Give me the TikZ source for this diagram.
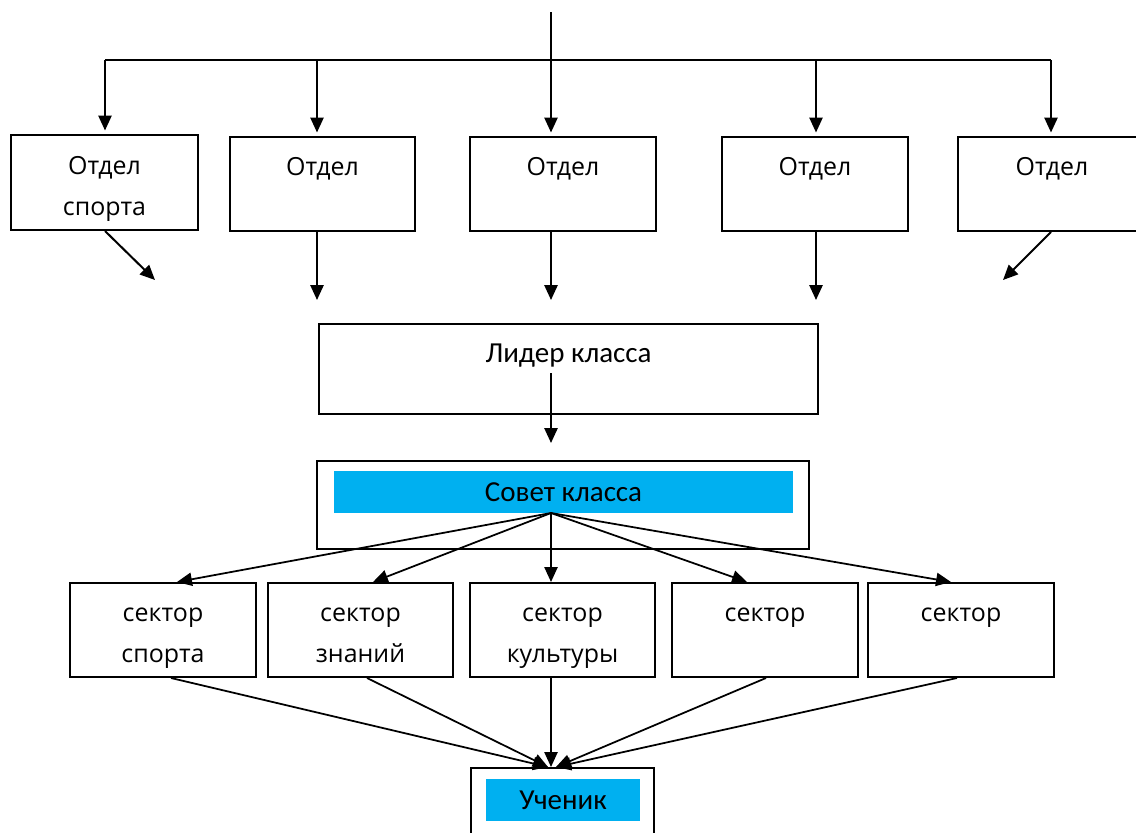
\documentclass[tikz,border=0pt]{standalone}
\usepackage{fontspec}
\setmainfont{Open Sans}
\newfontfamily\calibri{Carlito}
\usetikzlibrary{arrows.meta}
\usetikzlibrary{calc}
\definecolor{skyblue}{RGB}{0,176,240}

\begin{document}
\begin{tikzpicture}[x=0.02cm, y=-0.02cm, line width=1.15pt,
  box/.style={draw, inner sep=0pt, align=center, font=\fontsize{14.2}{23.3}\selectfont},
  bigbox/.style={draw, inner sep=0pt, align=center, font=\calibri\fontsize{16.5}{20}\selectfont},
  plate/.style={fill=skyblue, inner sep=0pt, font=\calibri\fontsize{16.5}{20}\selectfont},
  arr/.style={-{Triangle[length=8.5pt,width=7.5pt]}}]
\newcommand{\twoln}[2]{\rule{0pt}{\dimexpr0.7\baselineskip+4.5pt\relax}#1\\\strut #2}
\clip (0,0) rectangle (1136,832);
% departments
\node (otdel1) [box, minimum width=3.74cm, minimum height=1.9cm] at (104.5,182.5) {\twoln{Отдел}{спорта}};
\node (otdel2) [box, minimum width=3.7cm, minimum height=1.88cm] at (322.5,184) {\twoln{Отдел}{}};
\node (otdel3) [box, minimum width=3.72cm, minimum height=1.88cm] at (563,184) {\twoln{Отдел}{}};
\node (otdel4) [box, minimum width=3.72cm, minimum height=1.88cm] at (815,184) {\twoln{Отдел}{}};
\node (otdel5) [box, minimum width=3.76cm, minimum height=1.88cm] at (1052,184) {\twoln{Отдел}{}};
% bus
\coordinate (top) at (551,12);
\coordinate (bus) at (551,60);
\coordinate (d1) at (105,60);
\coordinate (d2) at (317,60);
\coordinate (d3) at (551,60);
\coordinate (d4) at (816,60);
\coordinate (d5) at (1051,60);
\draw (top) -- (bus) (d1) -- (d5);
\foreach \n in {1,...,5}
  \draw[arr, shorten >=2pt] (d\n) -- (d\n |- otdel\n.north);
% arrows out of the departments
\coordinate (e1) at (155,280);
\coordinate (e2) at (317,300);
\coordinate (e3) at (551,300);
\coordinate (e4) at (816,300);
\coordinate (e5) at (1003,280);
\foreach \n in {1,...,5}
  \draw[arr] (d\n |- otdel\n.south) -- (e\n);
% leader
\node (lider) [bigbox, minimum width=9.98cm, minimum height=1.8cm] at (568.5,369) {\twoln{Лидер класса}{}};
\coordinate (l0) at (551,373);
\coordinate (l1) at (551,443);
\draw[arr] (l0) -- (l1);
% council
\node (sovet) [draw, minimum width=9.84cm, minimum height=1.76cm] at (563,505) {};
\node (sovetplate) [plate, minimum width=9.18cm, minimum height=0.84cm] at (563.5,492) {Совет класса};
\coordinate (fan) at (551,513);
% sectors
\node (s1) [box, minimum width=3.72cm, minimum height=1.88cm] at (163,630) {\twoln{сектор}{спорта}};
\node (s2) [box, minimum width=3.7cm, minimum height=1.88cm] at (360.5,630) {\twoln{сектор}{знаний}};
\node (s3) [box, minimum width=3.7cm, minimum height=1.88cm] at (562.5,630) {\twoln{сектор}{культуры}};
\node (s4) [box, minimum width=3.72cm, minimum height=1.88cm] at (765,630) {\twoln{сектор}{}};
\node (s5) [box, minimum width=3.72cm, minimum height=1.88cm] at (961,630) {\twoln{сектор}{}};
\foreach \s/\dx in {s1/14, s2/12.5, s3/-11.5, s4/-18, s5/-10}
  \draw[arr, line width=1pt] (fan) -- ($(\s.north)+(\dx,0)$);
% pupil
\node (uchenik) [draw, minimum width=3.66cm, minimum height=2cm] at (562.5,818) {};
\node (uchenikplate) [plate, minimum width=3.08cm, minimum height=0.84cm] at (563,800) {Ученик};
\foreach \s/\dx/\ux in {s1/8/-14.5, s2/6.5/-14.5, s3/-11.5/-11.5, s4/1/-6.5, s5/-4/-6.5}
  \draw[arr, line width=1pt] ($(\s.south)+(\dx,0)$) -- ($(uchenik.north)+(\ux,0)$);
\end{tikzpicture}
\end{document}
